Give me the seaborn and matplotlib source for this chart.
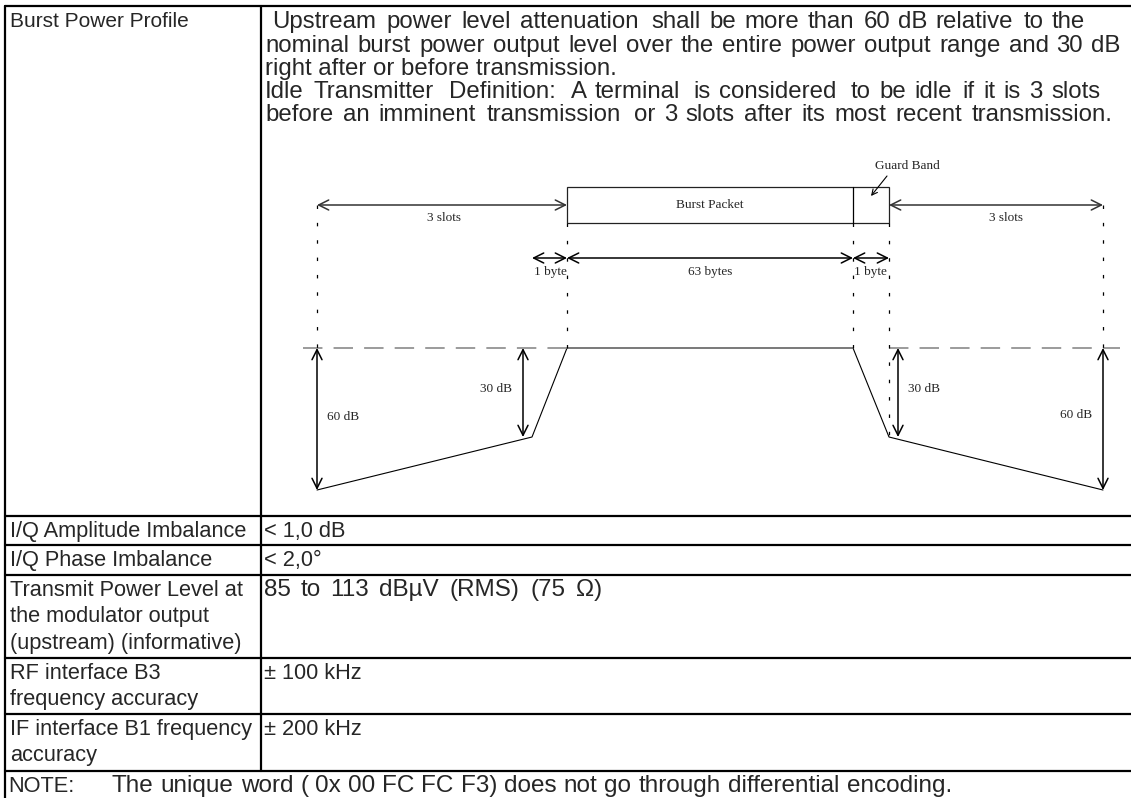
import matplotlib
matplotlib.use("Agg")
import matplotlib.pyplot as plt
from matplotlib.patches import Rectangle
import seaborn as sns

sns.set_theme(style="white")
plt.rcParams['font.family'] = ['Liberation Sans', 'DejaVu Sans']
plt.rcParams['lines.scale_dashes'] = False

W, H = 1131, 798

# ---- table content ----
profile_label = "Burst Power Profile"
profile_text = ["Upstream power level attenuation shall be more than 60 dB relative to the",
                "nominal burst power output level over the entire power output range and 30 dB",
                "right after or before transmission.",
                "Idle Transmitter Definition: A terminal is considered to be idle if it is 3 slots",
                "before an imminent transmission or 3 slots after its most recent transmission."]
# right end of each line as set in the source (None = natural width)
profile_text_end = [1085, 1120, None, 1100, 1113]
param_labels = [["I/Q Amplitude Imbalance"],
                ["I/Q Phase Imbalance"],
                ["Transmit Power Level at", "the modulator output", "(upstream) (informative)"],
                ["RF interface B3", "frequency accuracy"],
                ["IF interface B1 frequency", "accuracy"]]
param_values = ["< 1,0 dB", "< 2,0°", "85 to 113 dBµV (RMS) (75 Ω)", "± 100 kHz", "± 200 kHz"]
param_value_end = [None, None, 602, None, None]
note_head = "NOTE:"
note_text = "The unique word ( 0x 00 FC FC F3) does not go through differential encoding."
note_text_end = 952

# table grid (pixels)
col_edges = [5, 261]
row_edges = [6, 516, 545, 575, 658, 714, 771]

# ---- burst diagram landmarks (pixels) ----
slot_x = [317, 567, 853, 889, 1103]      # idle start, burst start, guard start, burst end, idle end
byte_x = 532                             # 1 byte before burst
level_y = {"nominal": 348, "30 dB": 437, "60 dB": 490}
box_y = [187, 223]
slot_arrow_y = 205
byte_arrow_y = 258
db30_x = [523, 898]

prof_x = [slot_x[0], byte_x, slot_x[1], slot_x[2], slot_x[3], slot_x[4]]
prof_y = [level_y["60 dB"], level_y["30 dB"], level_y["nominal"], level_y["nominal"],
          level_y["30 dB"], level_y["60 dB"]]

fig = plt.figure(figsize=(W / 100, H / 100), dpi=100)
ax = fig.add_axes([0, 0, 1, 1])
ax.set_xlim(0, W)
ax.set_ylim(H, 0)
renderer = fig.canvas.get_renderer()


def put(x, y, s, fs):
    # y is the visual middle of the line; place on a common baseline
    ax.text(x, y + 0.26 * fs * 100 / 72, s, fontsize=fs, va="baseline", ha="left")


def text_width(s, fs):
    t = ax.text(0, 0, s, fontsize=fs)
    w = t.get_window_extent(renderer).width
    t.remove()
    return w


def spread_line(x0, y, s, fs, end=None):
    """draw a line word by word, spreading the extra width per character"""
    words = s.split(" ")
    if len(words) == 1 or end is None:
        put(x0, y, s, fs)
        return
    sp = text_width("x x", fs) - text_width("xx", fs)
    widths = [text_width(w, fs) for w in words]
    pos, chars, x, c = [], [], 0.0, 0
    for w, wd in zip(words, widths):
        pos.append(x)
        chars.append(c)
        x += wd + sp
        c += len(w) + 1
    extra = max(end - x0 - (pos[-1] + widths[-1]), 0)
    for w, p, c in zip(words, pos, chars):
        put(x0 + p + extra * c / chars[-1], y, w, fs)


# profile polyline
sns.lineplot(x=prof_x, y=prof_y, sort=False, estimator=None, color="black",
             lw=0.8, ax=ax)

# ---- table lines ----
tlw = 1.6
ax.plot([col_edges[0], col_edges[0]], [row_edges[0], H], color="black", lw=tlw)
ax.plot([col_edges[1], col_edges[1]], [row_edges[0], row_edges[-1]], color="black", lw=tlw)
for y in row_edges:
    ax.plot([col_edges[0], W], [y, y], color="black", lw=tlw)

# ---- table text ----
fs_label = 15
fs_par = 17.3
fs_row = 15.7
fs_wide = 17.5
put(10, 22, profile_label, fs_label)
for i, (line, end) in enumerate(zip(profile_text, profile_text_end)):
    x0 = 272 if i == 0 else 265
    spread_line(x0, 22 + i * 23.3, line, fs_par, end=end)

for top, lab, val, end in zip(row_edges[1:-1], param_labels, param_values, param_value_end):
    for j, line in enumerate(lab):
        put(10, top + 15 + j * 26.7, line, fs_row)
    spread_line(264, top + 15, val, fs_wide if end else fs_row, end=end)

put(8, row_edges[-1] + 15, note_head, fs_row)
spread_line(112, row_edges[-1] + 15, note_text, fs_wide, end=note_text_end)

# ---- diagram ----
serif = ["Liberation Serif", "DejaVu Serif"]
dfs = 9.5
gray = "#808080"

# reference level (dashed outside the burst, solid on top of it)
ax.plot([303, slot_x[1]], [level_y["nominal"]] * 2, color=gray, lw=1.1,
        linestyle=(0, (14, 8)))
ax.plot([slot_x[1], slot_x[2]], [level_y["nominal"]] * 2, color=gray, lw=1.1)
ax.plot([slot_x[3], 1120], [level_y["nominal"]] * 2, color=gray, lw=1.1,
        linestyle=(0, (14, 8)))

# burst packet box
ax.add_patch(Rectangle((slot_x[1], box_y[0]), slot_x[3] - slot_x[1], box_y[1] - box_y[0],
                       fill=False, edgecolor="#222222", lw=0.9))
ax.plot([slot_x[2], slot_x[2]], box_y, color="black", lw=0.9)

# dotted guides
vdash = (0, (2.5, 10))
guides = [(slot_x[0], slot_arrow_y, level_y["nominal"]),
          (slot_x[1], box_y[1], level_y["nominal"]),
          (slot_x[2], box_y[1], level_y["nominal"]),
          (slot_x[3], box_y[1], level_y["30 dB"]),
          (slot_x[4], slot_arrow_y, level_y["nominal"])]
for gx, y0, y1 in guides:
    ax.plot([gx, gx], [y0, y1], color="black", lw=0.9, linestyle=vdash)


def darrow(p0, p1, style="<->", color="black"):
    ax.annotate("", xy=p1, xytext=p0,
                arrowprops=dict(arrowstyle=style, lw=1.1, color=color,
                                shrinkA=0, shrinkB=0, mutation_scale=18))


darrow((slot_x[0], slot_arrow_y), (slot_x[1], slot_arrow_y), color="#333333")
darrow((slot_x[3], slot_arrow_y), (slot_x[4], slot_arrow_y), color="#333333")
darrow((byte_x, byte_arrow_y), (slot_x[1], byte_arrow_y))
darrow((slot_x[1], byte_arrow_y), (slot_x[2], byte_arrow_y))
darrow((slot_x[2], byte_arrow_y), (slot_x[3], byte_arrow_y))
darrow((slot_x[0], level_y["nominal"]), (slot_x[0], level_y["60 dB"]))
darrow((db30_x[0], level_y["nominal"]), (db30_x[0], level_y["30 dB"]))
darrow((db30_x[1], level_y["nominal"]), (db30_x[1], level_y["30 dB"]))
darrow((slot_x[4], level_y["nominal"]), (slot_x[4], level_y["60 dB"]))
ax.annotate("", xy=(871, 196), xytext=(887, 176),
            arrowprops=dict(arrowstyle="->", lw=0.8, color="black",
                            shrinkA=0, shrinkB=0, mutation_scale=10))

diag_labels = [("Guard Band", 907, 166), ("Burst Packet", 710, 205),
               ("3 slots", 444, 218), ("3 slots", 1006, 218),
               ("1 byte", 550, 272), ("63 bytes", 710, 272), ("1 byte", 870, 272),
               ("30 dB", 496, 389), ("60 dB", 343, 417),
               ("30 dB", 924, 389), ("60 dB", 1076, 415)]
for s, x, y in diag_labels:
    ax.text(x, y, s, fontsize=dfs, family=serif, ha="center", va="center")

ax.set_xlim(0, W)
ax.set_ylim(H, 0)
ax.axis("off")
fig.savefig("out.png", dpi=100)
